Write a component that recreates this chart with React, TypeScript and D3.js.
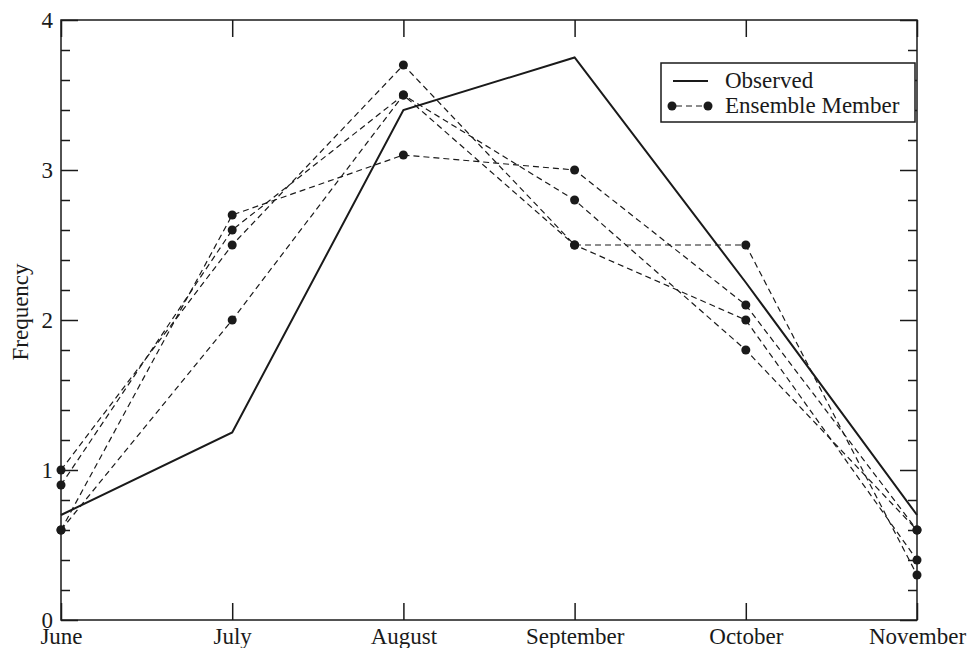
import * as d3 from "d3";
import React, { useEffect, useRef } from "react";

// months along the x axis
const months = ["June", "July", "August", "September", "October", "November"];
const observed = [0.7, 1.25, 3.4, 3.75, 2.25, 0.7];
// ensemble members
const memberA = [0.6, 2.7, 3.1, 3.0, 2.1, 0.6];
const memberB = [0.6, 2.0, 3.5, 2.8, 1.8, 0.6];
const memberC = [1.0, 2.5, 3.7, 2.5, 2.5, 0.3];
const memberD = [0.9, 2.6, 3.5, 2.5, 2.0, 0.4];
const yTicks = [0, 1, 2, 3, 4];

const App: React.FC = () => {
  const ref = useRef<SVGSVGElement | null>(null);
  const width = 969;
  const height = 648;

  useEffect(() => {
    if (!ref.current) return;
    const svg = d3.select(ref.current);
    svg.selectAll("*").remove();

    const margin = { top: 20, right: 52, bottom: 28, left: 61 };
    const innerWidth = width - margin.left - margin.right;
    const innerHeight = height - margin.top - margin.bottom;
    const font = "'Liberation Serif', 'Times New Roman', serif";
    const ink = "#1a1a1a";
    const fs = "23px";

    const x = d3.scalePoint<string>().domain(months).range([0, innerWidth]);
    const y = d3.scaleLinear().domain([0, 4]).range([innerHeight, 0]);

    const g = svg
      .append("g")
      .attr("transform", `translate(${margin.left},${margin.top})`);

    // frame
    g.append("rect")
      .attr("width", innerWidth)
      .attr("height", innerHeight)
      .attr("fill", "none")
      .attr("stroke", ink)
      .attr("stroke-width", 1.5);

    // y ticks, inward on both sides
    const minor = d3.range(0, 4.001, 0.2).filter((v) => Math.abs(v - Math.round(v)) > 1e-6);
    const yAxisL = d3.axisLeft(y).tickValues(yTicks).tickSize(-17).tickFormat(d3.format("d"));
    const gl = g.append("g").call(yAxisL);
    gl.select(".domain").remove();
    gl.selectAll("line").attr("stroke", ink).attr("stroke-width", 1.5);
    gl.selectAll("text").style("font-family", font).style("font-size", fs).attr("fill", ink).attr("x", -8);
    const gl2 = g.append("g").call(d3.axisLeft(y).tickValues(minor).tickSize(-9).tickFormat(() => ""));
    gl2.select(".domain").remove();
    gl2.selectAll("line").attr("stroke", ink).attr("stroke-width", 1.5);

    const gr = g
      .append("g")
      .attr("transform", `translate(${innerWidth},0)`)
      .call(d3.axisRight(y).tickValues(yTicks).tickSize(-17).tickFormat(() => ""));
    gr.select(".domain").remove();
    gr.selectAll("line").attr("stroke", ink).attr("stroke-width", 1.5);
    const gr2 = g
      .append("g")
      .attr("transform", `translate(${innerWidth},0)`)
      .call(d3.axisRight(y).tickValues(minor).tickSize(-9).tickFormat(() => ""));
    gr2.select(".domain").remove();
    gr2.selectAll("line").attr("stroke", ink).attr("stroke-width", 1.5);

    // x ticks, bottom with labels and top without
    const gb = g
      .append("g")
      .attr("transform", `translate(0,${innerHeight})`)
      .call(d3.axisBottom(x).tickSize(-17));
    gb.select(".domain").remove();
    gb.selectAll("line").attr("stroke", ink).attr("stroke-width", 1.5);
    gb.selectAll("text")
      .style("font-family", font)
      .style("font-size", fs)
      .attr("fill", ink)
      .attr("y", 24)
      .attr("dy", "0");
    const gt = g.append("g").call(d3.axisTop(x).tickSize(-17).tickFormat(() => ""));
    gt.select(".domain").remove();
    gt.selectAll("line").attr("stroke", ink).attr("stroke-width", 1.5);

    // y title
    g.append("text")
      .attr("transform", `translate(${-33},${innerHeight / 2 - 8}) rotate(-90)`)
      .attr("text-anchor", "middle")
      .style("font-family", font)
      .style("font-size", fs)
      .attr("fill", ink)
      .text("Frequency");

    const line = d3
      .line<number>()
      .x((_d, i) => x(months[i])!)
      .y((d) => y(d));

    // ensemble members
    const members = [memberA, memberB, memberC, memberD];
    members.forEach((m) => {
      g.append("path")
        .datum(m)
        .attr("d", line)
        .attr("fill", "none")
        .attr("stroke", ink)
        .attr("stroke-width", 1.2)
        .attr("stroke-dasharray", "6,4");
    });
    members.forEach((m) => {
      g.selectAll(null)
        .data(m)
        .enter()
        .append("circle")
        .attr("cx", (_d, i) => x(months[i])!)
        .attr("cy", (d) => y(d))
        .attr("r", 4.5)
        .attr("fill", ink);
    });

    // observed
    g.append("path")
      .datum(observed)
      .attr("d", line)
      .attr("fill", "none")
      .attr("stroke", ink)
      .attr("stroke-width", 2);

    // legend
    const lg = svg.append("g").attr("transform", "translate(661,63)");
    lg.append("rect")
      .attr("width", 254)
      .attr("height", 59)
      .attr("fill", "white")
      .attr("stroke", ink)
      .attr("stroke-width", 1.5);
    lg.append("line")
      .attr("x1", 12).attr("x2", 47).attr("y1", 18).attr("y2", 18)
      .attr("stroke", ink).attr("stroke-width", 2);
    lg.append("line")
      .attr("x1", 11).attr("x2", 47).attr("y1", 43).attr("y2", 43)
      .attr("stroke", ink).attr("stroke-width", 1.2).attr("stroke-dasharray", "6,4")
      .attr("stroke-dashoffset", -4);
    [11, 47].forEach((cx) =>
      lg.append("circle").attr("cx", cx).attr("cy", 43).attr("r", 4.5).attr("fill", ink)
    );
    ["Observed", "Ensemble Member"].forEach((t, i) => {
      lg.append("text")
        .attr("x", 64)
        .attr("y", 25 + i * 25)
        .style("font-family", font)
        .style("font-size", fs)
        .attr("fill", ink)
        .text(t);
    });
  }, []);

  return (
    <svg
      ref={ref}
      width={width}
      height={height}
      style={{ position: "absolute", left: 0, top: 0, background: "white" }}
    ></svg>
  );
};

export default App;
